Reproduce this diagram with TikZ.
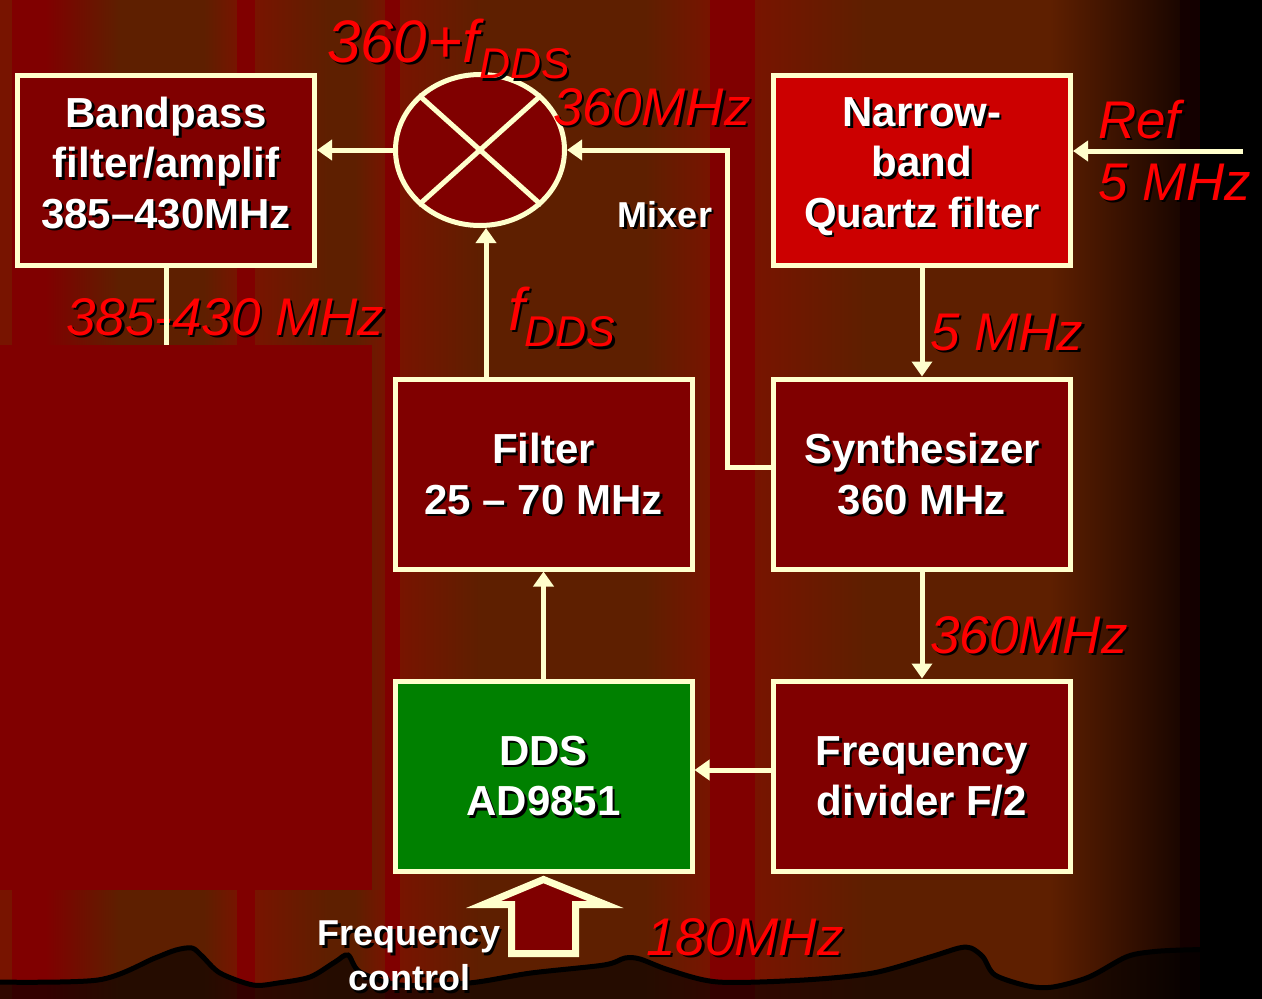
\documentclass[tikz,border=0pt]{standalone}
\usepackage{fontspec}
\setmainfont{Liberation Sans}
\usepackage{tikz}
\usetikzlibrary{arrows.meta,positioning,calc,shapes.geometric}
\definecolor{slidered}{HTML}{800000}
\definecolor{stripered}{HTML}{781400}
\definecolor{stripebrown}{HTML}{5E1F00}
\definecolor{stripedark}{HTML}{1A0600}
\definecolor{stripeblack}{HTML}{140000}
\definecolor{cream}{HTML}{FFFFCC}
\definecolor{quartzred}{HTML}{CC0000}
\definecolor{ddsgreen}{HTML}{008000}
\newcommand{\shd}[1]{\leavevmode\rlap{\kern2.5pt\raisebox{-2.5pt}{\color{black}#1}}#1}
\newcommand{\subdds}{\raisebox{-0.28em}{\fontsize{43}{43}\selectfont DDS}}
\tikzset{
  blockbox/.style={draw=cream,line width=5pt,fill=slidered,align=center,
    minimum width=297pt,minimum height=190pt,text=white,
    font=\fontsize{42}{50.5}\selectfont\bfseries},
  mixerbox/.style={ellipse,draw=cream,line width=5pt,fill=slidered,
    minimum width=169pt,minimum height=151pt,inner sep=0pt},
  flowarrow/.style={draw=cream,line width=5pt,-{Triangle[length=15pt,width=20pt]}},
  flowline/.style={draw=cream,line width=5pt},
  freqlabel/.style={text=red,anchor=base west,inner sep=0pt,
    font=\fontsize{53}{53}\selectfont\itshape},
  freqbig/.style={freqlabel,font=\fontsize{60}{60}\selectfont\itshape},
  notelabel/.style={text=white,inner sep=0pt,align=center,
    font=\fontsize{36}{45}\selectfont\bfseries}
}

\begin{document}
\begin{tikzpicture}[x=1pt,y=-1pt]
  \path[use as bounding box] (0,0) rectangle (1262,999);
  \clip (0,0) rectangle (1262,999);

  % striped slide background
  \foreach \xa/\xb/\ca/\cb in {0/12/stripered/stripered,12/45/slidered/slidered,
      45/118/slidered/stripebrown,118/204/stripebrown/stripebrown,
      204/237/stripebrown/stripered,237/255/slidered/slidered,
      255/327/stripered/stripebrown,327/355/stripebrown/stripebrown,
      355/385/stripebrown/stripered,385/400/slidered/slidered,
      400/480/stripered/stripebrown,480/645/stripebrown/stripebrown,
      645/710/stripebrown/stripered,710/755/slidered/slidered,
      755/866/stripered/stripebrown,866/1050/stripebrown/stripebrown,
      1050/1180/stripebrown/stripedark,1180/1200/stripeblack/stripeblack,
      1200/1262/black/black}
    \shade[left color=\ca,right color=\cb] (\xa,0) rectangle ({\xb+1},999);

  % blocks
  \node[blockbox,text depth=16pt] (bpf) at (166,170.5)
    {\shd{Bandpass}\\\shd{filter/amplif}\\\shd{385–430MHz}};
  \node[blockbox,fill=quartzred,text depth=16pt] (nbf) at (922,170.5)
    {\shd{Narrow-}\\\shd{band}\\\shd{Quartz filter}};
  \node[blockbox,text depth=-8pt] (filt) at (543.5,474) {\shd{Filter}\\\shd{25 – 70 MHz}};
  \node[blockbox,text depth=-8pt] (synth) at (922,474) {\shd{Synthesizer}\\\shd{360 MHz}};
  \node[blockbox,fill=ddsgreen,text depth=-10pt] (dds) at (543.5,776) {\shd{DDS}\\\shd{AD9851}};
  \node[blockbox,text depth=-10pt] (div) at (922,776) {\shd{Frequency}\\\shd{divider F/2}};

  % mixer
  \node[mixerbox] (mix) at (480,150) {};
  \draw[flowline] (mix.north west) -- (mix.south east);
  \draw[flowline] (mix.north east) -- (mix.south west);

  % connectors
  \node[freqlabel] (rfout) at (66,335) {\shd{385-430 MHz}};
  \coordinate (bpfout) at (167,345);
  \draw[flowline] (bpf.south) -- (bpf.south |- bpfout);
  \draw[flowarrow] (mix.west) -- (mix.west -| bpf.east);
  \draw[flowarrow] ([yshift=7pt]synth.west) -- ++(-44,0) |- (mix.east);
  \draw[flowarrow] ([xshift=-57.5pt]filt.north) -- ([xshift=-57.5pt]filt.north |- mix.south);
  \draw[flowarrow] (dds) -- (filt);
  \draw[flowarrow] ([yshift=6pt]div.west) -- ([yshift=6pt]dds.east);
  \draw[flowarrow] (nbf) -- (synth);
  \draw[flowarrow] (synth) -- (div);
  \coordinate (refin) at (1243,151);
  \draw[flowarrow] (refin) -- (refin -| nbf.east);

  % frequency control input
  \draw[cream,line width=7pt,fill=slidered] ([yshift=-6pt]dds.south)
    -- ++(-60,25) -- ++(28,0) -- ++(0,49) -- ++(64,0) -- ++(0,-49) -- ++(30,0) -- cycle;

  \fill[slidered] (0,345) rectangle (372,890);

  % hills at the bottom of the slide
  \draw[black,line width=5pt,fill=black,fill opacity=0.6] plot[smooth] coordinates {
      (-10,982) (98,980) (155,958) (176,950) (192,948) (202,956) (220,973)
      (253,985) (278,983) (310,977) (335,962) (348,955) (360,972) (400,985)
      (469,983) (531,973) (604,965) (625,958) (640,959) (669,970) (718,982)
      (804,980) (873,973) (930,957) (959,948) (971,948) (983,957) (995,975)
      (1028,986) (1053,987) (1089,977) (1126,957) (1150,952) (1183,950) (1275,948)}
    -- (1275,1012) -- (-10,1012) -- cycle;

  % labels
  \node[freqbig] (mixsum) at (327,62) {\shd{360+f\subdds}};
  \node[freqlabel] (lo) at (553,125) {\shd{360MHz}};
  \node[freqlabel] (refl) at (1098,138) {\shd{Ref}};
  \node[freqlabel] (refmhz) at (1098,200) {\shd{5 MHz}};
  \node[freqbig] (fdds) at (508,330) {\shd{f\subdds}};
  \node[freqlabel] (qout) at (930,350) {\shd{5 MHz}};
  \node[freqlabel] (synout) at (930,653) {\shd{360MHz}};
  \node[freqlabel] (clk) at (646,955) {\shd{180MHz}};
  \node[notelabel,anchor=base] (mixname) at (665,227) {\shd{Mixer}};
  \node[notelabel,anchor=north] (fctl) at (409,921) {\shd{Frequency}\\\shd{control}};
\end{tikzpicture}
\end{document}
